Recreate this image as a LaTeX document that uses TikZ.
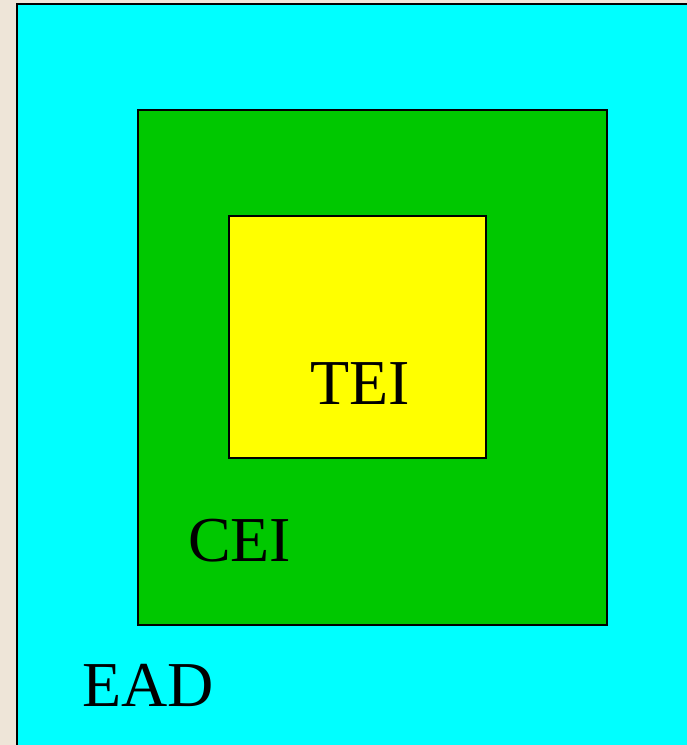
\documentclass[tikz,border=0pt]{standalone}
\usepackage{fontspec}
\setmainfont{Liberation Serif}
\definecolor{beige}{HTML}{EEE5D8}
\definecolor{cyanbox}{HTML}{00FFFF}
\definecolor{greenbox}{HTML}{00C800}
\definecolor{yellowbox}{HTML}{FFFF00}
\begin{document}
\begin{tikzpicture}[x=1pt,y=-1pt,
  boxstyle/.style={draw=black,line width=1.5pt},
  lbl/.style={anchor=base west,inner sep=0pt,font=\fontsize{64}{76}\selectfont}]
\useasboundingbox (0,0) rectangle (687,745);
\fill[beige] (0,0) rectangle (687,745);
\filldraw[boxstyle,fill=cyanbox,line width=2pt] (17,4) rectangle (700,760);
\filldraw[boxstyle,fill=greenbox] (138,110) rectangle (607,625);
\filldraw[boxstyle,fill=yellowbox] (229,216) rectangle (486,458);
\node[lbl] (tei) at (310,404) {TEI};
\node[lbl] (cei) at (188,561) {CEI};
\node[lbl] (ead) at (82,706) {EAD};
\end{tikzpicture}
\end{document}
